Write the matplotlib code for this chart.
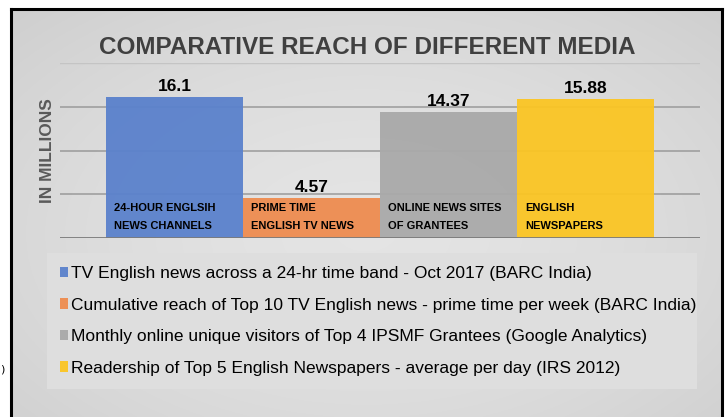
import numpy as np
import matplotlib
matplotlib.use("Agg")
import matplotlib.pyplot as plt

# ---- data ----
categories = ["24-HOUR ENGLSIH\nNEWS CHANNELS", "PRIME TIME\nENGLISH TV NEWS",
              "ONLINE NEWS SITES\nOF GRANTEES", "ENGLISH\nNEWSPAPERS"]
values = [16.1, 4.57, 14.37, 15.88]
value_labels = ["16.1", "4.57", "14.37", "15.88"]
legend_labels = [
    "TV English news across a 24-hr time band - Oct 2017 (BARC India)",
    "Cumulative reach of Top 10 TV English news - prime time per week (BARC India)",
    "Monthly online unique visitors of Top 4 IPSMF Grantees (Google Analytics)",
    "Readership of Top 5 English Newspapers - average per day (IRS 2012)",
]
colors = ["#5a81cc", "#ee8c4f", "#a9a9a9", "#fbc523"]
title = "COMPARATIVE REACH OF DIFFERENT MEDIA"
ylabel = "IN MILLIONS"
yticks = [5, 10, 15, 20]

NARROW = ["Liberation Sans Narrow", "Liberation Sans", "DejaVu Sans"]

W, H = 725, 417
fig = plt.figure(figsize=(W / 100, H / 100), dpi=100)
fig.patch.set_facecolor("white")

# background panel with soft radial gradient
bg = fig.add_axes([11 / W, 0, (722 - 11) / W, 1 - 9 / H])
bg.set_axis_off()
yy, xx = np.mgrid[0:1:300j, 0:1:500j]
r = np.sqrt(((xx - 0.5) / 0.75) ** 2 + ((yy - 0.45) / 0.8) ** 2)
shade = 0.895 - 0.09 * np.clip(r, 0, 1) ** 1.6
img = np.dstack([shade, shade, shade])
bg.imshow(img, extent=[0, 1, 0, 1], aspect="auto", origin="lower")
bg.set_xlim(0, 1)
bg.set_ylim(0, 1)
fig.add_artist(plt.Line2D([11 / W, 11 / W], [0, 1 - 9 / H], color="black", lw=2.2, transform=fig.transFigure))
fig.add_artist(plt.Line2D([11 / W, 722 / W], [1 - 9 / H, 1 - 9 / H], color="black", lw=2.2, transform=fig.transFigure))
fig.add_artist(plt.Line2D([722 / W, 722 / W], [0, 1 - 9 / H], color="black", lw=2.2, transform=fig.transFigure))

# main axes
ax = fig.add_axes([60 / W, 1 - 238 / H, 640 / W, 175 / H])
ax.patch.set_alpha(0)
x = np.arange(len(values))
bars = ax.bar(x, values, width=1.0, color=colors, alpha=0.95, zorder=2,
              edgecolor="none")
ax.set_xlim(-0.835, 3.835)
ax.set_ylim(0, 20)
for t in yticks:
    ax.axhline(t, color="#c4c4c4" if t == 20 else "#9a9a9a", lw=1.0 if t == 20 else 1.1, zorder=1)
ax.axhline(0, color="#7a7a7a", lw=2.0, zorder=3)
for s in ax.spines.values():
    s.set_visible(False)
ax.set_xticks([])
ax.set_yticks([])

for i, (v, lab, cat) in enumerate(zip(values, value_labels, categories)):
    ax.annotate(lab, xy=(i, v), xytext=(0, 2), textcoords="offset points",
                ha="center", va="bottom", fontsize=12.5, fontweight="bold",
                family=NARROW, color="black", zorder=4)
    ax.annotate(cat, xy=(i - 0.5, 0), xytext=(6, 5), textcoords="offset points",
                ha="left", va="bottom", fontsize=8, fontweight="bold",
                family=NARROW, color="black", linespacing=2.0, zorder=4)

fig.text(367 / W, 1 - 47 / H, title, ha="center", va="center", fontsize=17.5,
         fontweight="bold", family=NARROW, color="#404040")
fig.text(47 / W, 1 - 151 / H, ylabel, ha="center", va="center", rotation=90,
         fontsize=12.5, fontweight="bold", family=["Liberation Sans", "DejaVu Sans"],
         color="#5a5a5a")

leg = fig.legend(bars, legend_labels, loc="upper left",
                 bbox_to_anchor=(47 / W, 1 - 253 / H, 650 / W, 0.0), mode="expand",
                 frameon=True, fancybox=False, framealpha=1.0, facecolor="#dedede",
                 edgecolor="none", prop={"family": NARROW, "size": 12.5},
                 handlelength=0.45, handleheight=0.55, handletextpad=0.2,
                 labelspacing=0.95, borderpad=0.75, borderaxespad=0.0)

fig.text(0.0, 1 - 370 / H, ")", ha="left", va="center", fontsize=8, color="black")

fig.savefig("out.png", dpi=100)
